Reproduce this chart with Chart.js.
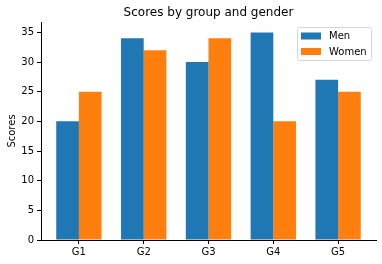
<!DOCTYPE html>
<html>
<head>
<meta charset="utf-8">
<script src="https://cdn.jsdelivr.net/npm/chart.js@4/dist/chart.umd.min.js"></script>
<style>
  html, body { margin: 0; padding: 0; background: #fff; }
  #wrap { width: 382px; height: 264px; }
</style>
</head>
<body>
<div id="wrap"><canvas id="c" width="382" height="264"></canvas></div>
<script>
const groups = ['G1', 'G2', 'G3', 'G4', 'G5'];
const menScores = [20, 34, 30, 35, 27];
const womenScores = [25, 32, 34, 20, 25];
const yTicks = [0, 5, 10, 15, 20, 25, 30, 35];

const FONT = 'DejaVu Sans';
const toPoints = (vals) => vals.map((v, i) => ({ x: i, y: v }));

// matplotlib-style title + legend drawn over the axes
const overlay = {
  id: 'overlay',
  afterDraw(chart) {
    const { ctx, chartArea: a } = chart;
    ctx.save();
    ctx.fillStyle = '#000';
    ctx.font = `12px "${FONT}"`;
    ctx.textAlign = 'center';
    ctx.textBaseline = 'middle';
    ctx.fillText('Scores by group and gender', (a.left + a.right) / 2, 13);

    // legend box
    const bx = 297.5, by = 27.5, bw = 74, bh = 33;
    ctx.beginPath();
    ctx.roundRect(bx, by, bw, bh, 2);
    ctx.fillStyle = 'rgba(255,255,255,0.8)';
    ctx.fill();
    ctx.strokeStyle = '#d6d6d6';
    ctx.lineWidth = 1;
    ctx.stroke();
    ctx.font = `10px "${FONT}"`;
    ctx.textAlign = 'left';
    chart.data.datasets.forEach((ds, i) => {
      const cy = 36 + i * 15.5;
      ctx.fillStyle = ds.backgroundColor;
      ctx.fillRect(301, cy - 3.5, 20, 7);
      ctx.fillStyle = '#000';
      ctx.fillText(ds.label, 329, cy + 0.5);
    });
    ctx.restore();
  }
};

new Chart(document.getElementById('c'), {
  type: 'bar',
  data: {
    datasets: [
      { label: 'Men', data: toPoints(menScores), backgroundColor: '#1f77b4' },
      { label: 'Women', data: toPoints(womenScores), backgroundColor: '#ff7f0e' }
    ]
  },
  options: {
    responsive: false,
    animation: false,
    layout: { padding: { top: 22, right: 6, left: 0, bottom: 0 } },
    datasets: { bar: { categoryPercentage: 0.7, barPercentage: 1, borderWidth: 0 } },
    plugins: { legend: { display: false }, title: { display: false }, tooltip: { enabled: false } },
    scales: {
      x: {
        type: 'linear',
        min: -0.585,
        max: groups.length - 1 + 0.585,
        offset: false,
        afterFit: (s) => { s.height = 24; },
        afterBuildTicks: (s) => { s.ticks = groups.map((_, i) => ({ value: i })); },
        grid: { offset: false, drawOnChartArea: false, tickLength: 4, color: '#000' },
        border: { color: '#000', width: 1 },
        ticks: {
          color: '#000', padding: 2, maxRotation: 0, autoSkip: false,
          font: { family: FONT, size: 10 },
          callback: (v) => groups[Math.round(v)] ?? ''
        }
      },
      y: {
        min: 0,
        max: 36.75,
        afterFit: (s) => { s.width = 41; },
        afterBuildTicks: (s) => { s.ticks = yTicks.map(v => ({ value: v })); },
        grid: { drawOnChartArea: false, tickLength: 4, color: '#000' },
        border: { color: '#000', width: 1 },
        ticks: { color: '#000', padding: 3, font: { family: FONT, size: 10 } },
        title: {
          display: true, text: 'Scores', color: '#000',
          font: { family: FONT, size: 10 }, padding: { top: 6, bottom: 0 }
        }
      }
    }
  },
  plugins: [overlay]
});
</script>
</body>
</html>
